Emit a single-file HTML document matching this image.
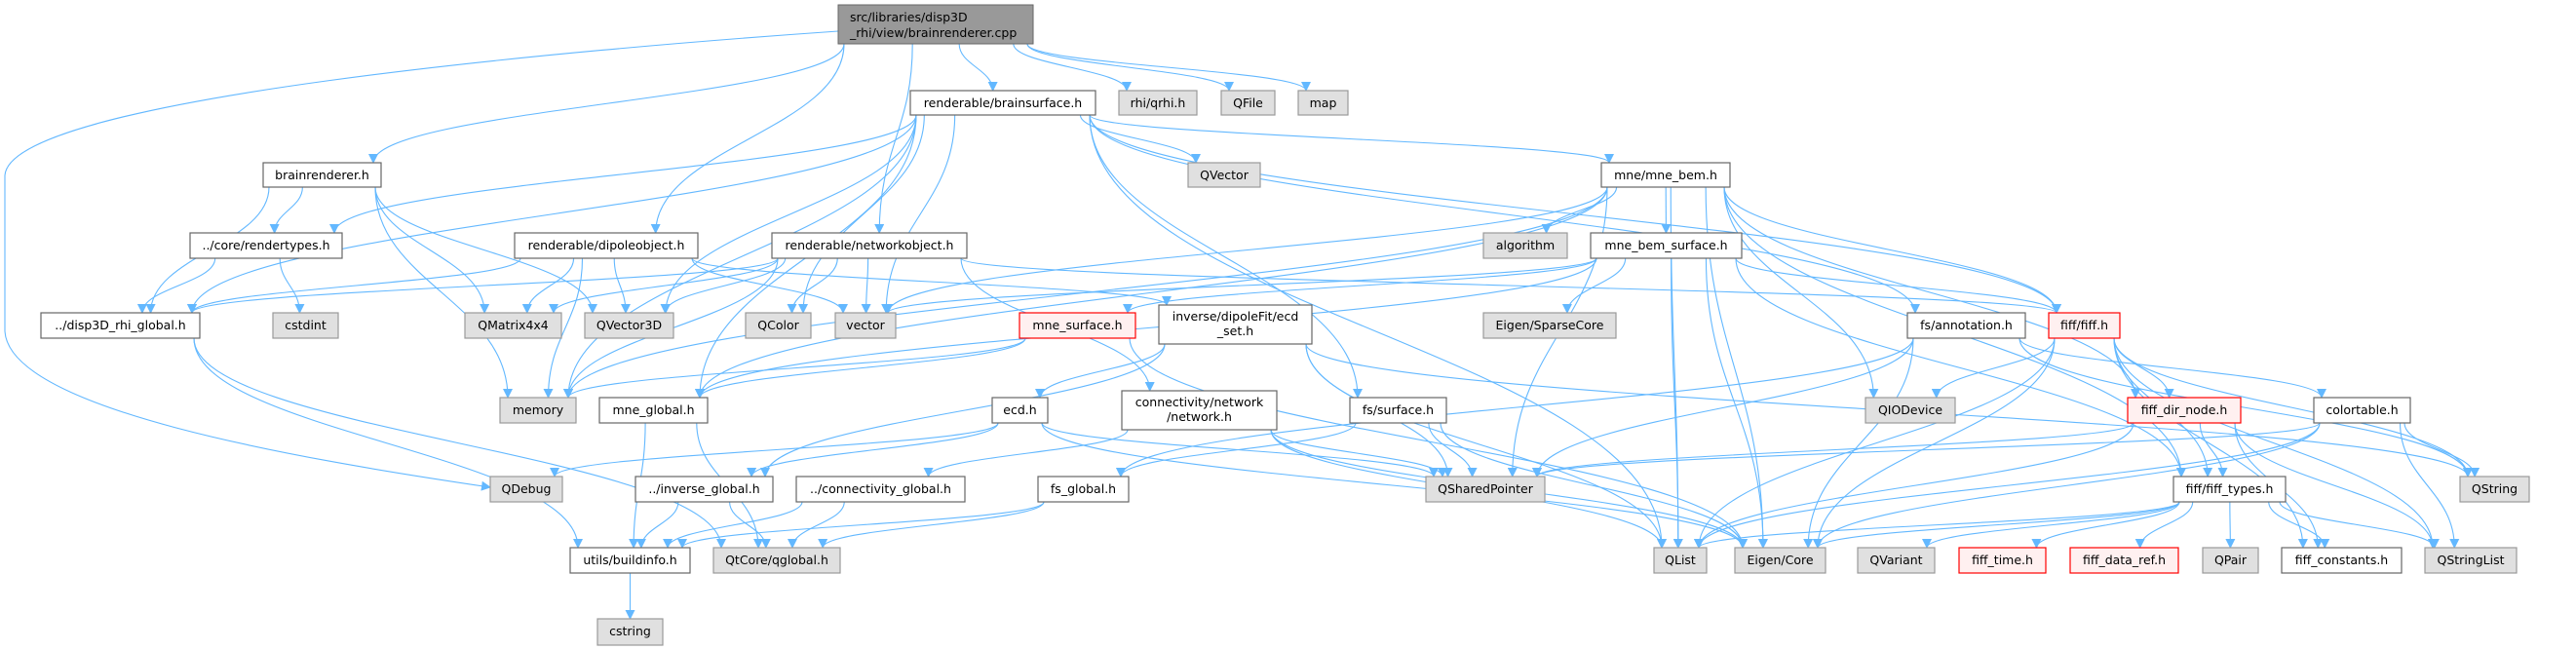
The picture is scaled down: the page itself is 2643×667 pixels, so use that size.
<!DOCTYPE html>
<html><head><meta charset="utf-8"><style>
html,body{margin:0;padding:0;background:#fff;}
svg{display:block;}
text{font-family:"DejaVu Sans","Liberation Sans",sans-serif;font-size:12.5px;fill:#000;}
</style></head><body>
<svg id="g" width="2643" height="667" viewBox="0 0 2643 667" xmlns="http://www.w3.org/2000/svg">
<defs><marker id="a" viewBox="0 0 10 10" refX="9" refY="5" markerWidth="10" markerHeight="10" markerUnits="userSpaceOnUse" orient="auto"><path d="M0,0 L10,5 L0,10 z" fill="#63b8ff"/></marker></defs>
<g id="edges" fill="none" stroke="#63b8ff" stroke-width="1.1">
<path d="M860,32 C600,50 10,100 5,180 L5,340 C10,420 300,470 503,500" marker-end="url(#a)"/>
</g>
<g id="nodes">
<rect x="860" y="5" width="200" height="40" fill="#999" stroke="#666"/><text x="872" y="22">src/libraries/disp3D</text><text x="872" y="38">_rhi/view/brainrenderer.cpp</text>
</g>
</svg>
<script>
var N={
bs:[934,93,1124,118,'renderable/brainsurface.h','w'],
qrhi:[1148,93,1228,118,'rhi/qrhi.h','g'],
qfile:[1253,93,1308,118,'QFile','g'],
map:[1332,93,1383,118,'map','g'],
br:[270,167,391,192,'brainrenderer.h','w'],
qvec:[1219,167,1293,192,'QVector','g'],
bem:[1643,167,1775,192,'mne/mne_bem.h','w'],
rt:[195,239,351,265,'../core/rendertypes.h','w'],
dip:[528,239,716,265,'renderable/dipoleobject.h','w'],
net:[792,239,992,265,'renderable/networkobject.h','w'],
alg:[1522,239,1608,265,'algorithm','g'],
bems:[1632,239,1787,265,'mne_bem_surface.h','w'],
glob:[42,321,205,347,'../disp3D_rhi_global.h','w'],
cstdint:[280,321,347,347,'cstdint','g'],
qm:[477,321,576,347,'QMatrix4x4','g'],
qv3:[600,321,691,347,'QVector3D','g'],
qcol:[765,321,832,347,'QColor','g'],
vec:[857,321,919,347,'vector','g'],
msurf:[1046,321,1165,347,'mne_surface.h','r'],
ecdset:[1189,313,1346,353,'inverse/dipoleFit/ecd|_set.h','w'],
sparse:[1522,321,1658,347,'Eigen/SparseCore','g'],
annot:[1957,321,2078,347,'fs/annotation.h','w'],
fiff:[2102,321,2175,347,'fiff/fiff.h','r'],
mem:[513,408,591,434,'memory','g'],
mglob:[615,408,726,434,'mne_global.h','w'],
ecd:[1018,408,1075,434,'ecd.h','w'],
network:[1151,401,1310,441,'connectivity/network|/network.h','w'],
fsurf:[1385,408,1484,434,'fs/surface.h','w'],
qio:[1914,408,2006,434,'QIODevice','g'],
dirn:[2183,408,2299,434,'fiff_dir_node.h','r'],
ctab:[2374,408,2473,434,'colortable.h','w'],
qdbg:[503,489,577,515,'QDebug','g'],
invg:[652,489,793,515,'../inverse_global.h','w'],
conng:[817,489,990,515,'../connectivity_global.h','w'],
fsg:[1065,489,1158,515,'fs_global.h','w'],
qsp:[1463,489,1585,515,'QSharedPointer','g'],
ftypes:[2230,489,2345,515,'fiff/fiff_types.h','w'],
qstr:[2524,489,2595,515,'QString','g'],
bi:[585,562,708,588,'utils/buildinfo.h','w'],
qg:[732,562,862,588,'QtCore/qglobal.h','g'],
qlist:[1697,562,1751,588,'QList','g'],
ecore:[1780,562,1873,588,'Eigen/Core','g'],
qvar:[1906,562,1985,588,'QVariant','g'],
ftime:[2010,562,2099,588,'fiff_time.h','r'],
fdr:[2124,562,2235,588,'fiff_data_ref.h','r'],
qpair:[2260,562,2317,588,'QPair','g'],
fconst:[2341,562,2464,588,'fiff_constants.h','w'],
qsl:[2488,562,2582,588,'QStringList','g'],
cstring:[613,635,680,662,'cstring','g'],
root:[860,5,1060,45,'','x']
};
var E={
root:['br','dip','net','bs','qrhi','qfile','map'],
bs:['glob','rt','qv3','qcol','vec','mem','qvec','bem','fsurf','annot','qlist','mglob','fiff'],
br:['rt','glob','qm','qv3','mem'],
rt:['glob','cstdint'],
dip:['glob','qm','qv3','vec','mem','ecdset'],
net:['glob','qm','qv3','qcol','vec','mem','network','fiff'],
glob:['bi','qg'],
mglob:['bi','qg'],
bi:['cstring'],
invg:['bi','qg'],conng:['bi','qg'],fsg:['bi','qg'],
ecd:['qdbg','invg','qsp','ecore'],
ecdset:['ecd','invg','qsp','qlist','qstr'],
network:['conng','qsp','qlist','ecore'],
fsurf:['fsg','qsp','ecore'],
annot:['ctab','fsg','qsp','ecore','qstr'],
ctab:['qstr','qsl','ecore','qsp','qlist'],
bem:['bems','alg','fiff','dirn','ftypes','qio','qsp','qlist','mem','mglob','vec','ecore'],
bems:['vec','msurf','fiff','ftypes','sparse','ecore','qlist','mglob'],
msurf:['mem','mglob','ecore'],
fiff:['dirn','ftypes','qio','ecore','qlist','qstr','qsl','fconst'],
dirn:['ftypes','fconst','qsl','qsp','qlist'],
ftypes:['qlist','ecore','qvar','ftime','fdr','qpair','fconst','qsl']
};
var NS='http://www.w3.org/2000/svg',eg=document.getElementById('edges'),ng=document.getElementById('nodes');
function cl(v,a,b){return Math.max(a,Math.min(b,v));}
for(var s in E){var S=N[s];E[s].forEach(function(t){var T=N[t];
var scx=(S[0]+S[2])/2,tcx=(T[0]+T[2])/2;
var sx=cl(scx+(tcx-scx)*0.35,S[0]+6,S[2]-6),sy=S[3];
var tx=cl(tcx+(scx-tcx)*0.15,T[0]+8,T[2]-8),ty=T[1];
var dy=ty-sy;
var p=document.createElementNS(NS,'path');
p.setAttribute('d','M'+sx+','+sy+' C'+sx+','+(sy+dy*0.45)+' '+tx+','+(ty-dy*0.45)+' '+tx+','+ty);
p.setAttribute('marker-end','url(#a)');eg.appendChild(p);});}
for(var k in N){var n=N[k];if(n[5]=='x')continue;
var r=document.createElementNS(NS,'rect');
r.setAttribute('x',n[0]);r.setAttribute('y',n[1]);r.setAttribute('width',n[2]-n[0]);r.setAttribute('height',n[3]-n[1]);
var f={w:'#fff',g:'#e0e0e0',r:'#fff0f0'}[n[5]],st={w:'#666',g:'#999',r:'#ff0000'}[n[5]];
r.setAttribute('fill',f);r.setAttribute('stroke',st);r.setAttribute('stroke-width','1.2');ng.appendChild(r);
var lines=n[4].split('|'),cx=(n[0]+n[2])/2;
lines.forEach(function(L,i){var t=document.createElementNS(NS,'text');t.setAttribute('x',cx);t.setAttribute('text-anchor','middle');
t.setAttribute('y',lines.length==1?n[1]+17:n[1]+16+i*15);t.textContent=L;ng.appendChild(t);});}
</script>
</body></html>
